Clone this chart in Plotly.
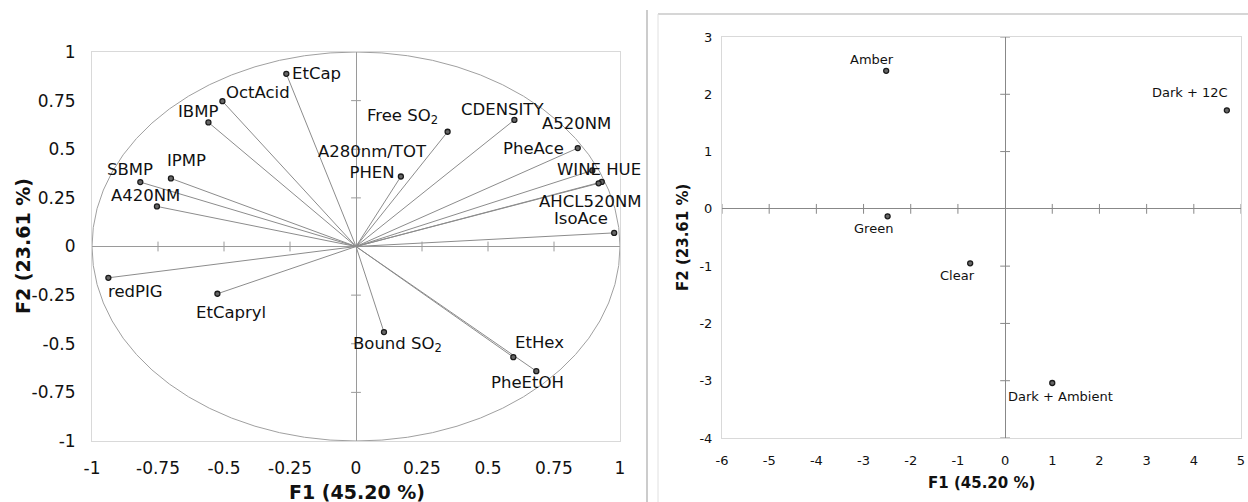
import plotly.graph_objects as go

W, H = 1248, 502

# ---------------- data ----------------
var_names = ["EtCap", "OctAcid", "IBMP", "IPMP", "SBMP", "A420NM", "redPIG", "EtCapryl",
             "Free SO<sub>2</sub>", "CDENSITY", "A520NM", "PheAce", "A280nm/TOT<br>PHEN",
             "WINE HUE", "AHCL520NM", "IsoAce", "Bound SO<sub>2</sub>", "EtHex", "PheEtOH"]
var_f1 = [-0.264, -0.506, -0.559, -0.701, -0.817, -0.754, -0.938, -0.525,
          0.347, 0.600, 0.931, 0.840, 0.170, 0.895, 0.919, 0.978, 0.106, 0.596, 0.683]
var_f2 = [0.888, 0.747, 0.638, 0.350, 0.331, 0.206, -0.161, -0.243,
          0.590, 0.651, 0.332, 0.506, 0.360, 0.391, 0.325, 0.070, -0.440, -0.569, -0.641]

obs_names = ["Amber", "Green", "Dark + 12C", "Clear", "Dark + Ambient"]
obs_f1 = [-2.52, -2.49, 4.70, -0.74, 1.00]
obs_f2 = [2.41, -0.13, 1.72, -0.95, -3.04]

left_ticks = [-1, -0.75, -0.5, -0.25, 0, 0.25, 0.5, 0.75, 1]
left_ticktext = ["-1", "-0.75", "-0.5", "-0.25", "0", "0.25", "0.5", "0.75", "1"]
right_xticks = [-6, -5, -4, -3, -2, -1, 0, 1, 2, 3, 4, 5]
right_xticktext = ["-6", "-5", "-4", "-3", "-2", "-1", "0", "1", "2", "3", "4", "5"]
right_yticks = [-4, -3, -2, -1, 0, 1, 2, 3]
right_yticktext = ["-4", "-3", "-2", "-1", "0", "1", "2", "3"]

x_title = "F1 (45.20 %)"
y_title = "F2 (23.61 %)"

# label offsets in pixels (dx right, dy up) - styling only
var_label_shift = {
    "EtCap": (30, 0), "OctAcid": (36, 9), "IBMP": (-10, 11), "IPMP": (15.5, 18),
    "SBMP": (-10.6, 12.4), "A420NM": (-11, 11), "redPIG": (27, -13.4), "EtCapryl": (13.4, -18.4),
    "Free SO<sub>2</sub>": (-44.7, 15.3), "CDENSITY": (-11.6, 10.3), "A520NM": (-25.2, 58.6),
    "PheAce": (-44.7, -0.6), "A280nm/TOT<br>PHEN": (-28, 14), "WINE HUE": (6.4, 0.7),
    "AHCL520NM": (-9, -18), "IsoAce": (-33.6, 14), "Bound SO<sub>2</sub>": (13.7, -12.6),
    "EtHex": (26.5, 15), "PheEtOH": (-8.6, -11.6),
}
obs_label_shift = {
    "Amber": (-14, 11.4), "Green": (-14, -12.3), "Dark + 12C": (-36.4, 17.4),
    "Clear": (-12.5, -12.7), "Dark + Ambient": (8.5, -13.4),
}

FONT = "DejaVu Sans, Verdana, sans-serif"
FRAME = "#d9d9d9"
AXC = "#9a9a9a"

def px(x):
    return x / W

def py(y):
    return 1 - y / H

fig = go.Figure()

# ---------- left: correlation circle ----------
vx, vy = [], []
for a, b in zip(var_f1, var_f2):
    vx += [0, a, None]
    vy += [0, b, None]
fig.add_trace(go.Scatter(x=vx, y=vy, mode="lines", line=dict(color="#8c8c8c", width=1),
                         xaxis="x", yaxis="y", hoverinfo="skip", showlegend=False))

inner = [t for t in left_ticks if t not in (-1, 0, 1)]
fig.add_trace(go.Scatter(x=inner, y=[0] * len(inner), mode="markers",
                         marker=dict(symbol="line-ns", size=7, line=dict(color=AXC, width=1)),
                         xaxis="x", yaxis="y", hoverinfo="skip", showlegend=False))
fig.add_trace(go.Scatter(x=[0] * len(inner), y=inner, mode="markers",
                         marker=dict(symbol="line-ew", size=7, line=dict(color=AXC, width=1)),
                         xaxis="x", yaxis="y", hoverinfo="skip", showlegend=False))

fig.add_trace(go.Scatter(x=var_f1, y=var_f2, mode="markers",
                         marker=dict(symbol="circle", size=5, color="#666666",
                                     line=dict(color="#1a1a1a", width=1.3)),
                         xaxis="x", yaxis="y", text=var_names, showlegend=False))

fig.add_shape(type="circle", xref="x", yref="y", x0=-1, y0=-1, x1=1, y1=1,
              line=dict(color="#a0a0a0", width=1), layer="below")

for n, a, b in zip(var_names, var_f1, var_f2):
    dx, dy = var_label_shift[n]
    fig.add_annotation(x=a, y=b, xref="x", yref="y", text=n, showarrow=False,
                       xanchor="center", yanchor="middle", xshift=dx, yshift=dy,
                       font=dict(family=FONT, size=16.5, color="#111111"))

# ---------- right: observations ----------
rx = [t for t in right_xticks if t != 0]
ry = [t for t in right_yticks if t != 0]
fig.add_trace(go.Scatter(x=rx, y=[0] * len(rx), mode="markers",
                         marker=dict(symbol="line-ns", size=7, line=dict(color="#888888", width=1)),
                         xaxis="x2", yaxis="y2", hoverinfo="skip", showlegend=False))
fig.add_trace(go.Scatter(x=[0] * len(ry), y=ry, mode="markers",
                         marker=dict(symbol="line-ew", size=7, line=dict(color="#888888", width=1)),
                         xaxis="x2", yaxis="y2", hoverinfo="skip", showlegend=False))
fig.add_trace(go.Scatter(x=obs_f1, y=obs_f2, mode="markers",
                         marker=dict(symbol="circle", size=5, color="#666666",
                                     line=dict(color="#1a1a1a", width=1.3)),
                         xaxis="x2", yaxis="y2", text=obs_names, showlegend=False))
for n, a, b in zip(obs_names, obs_f1, obs_f2):
    dx, dy = obs_label_shift[n]
    fig.add_annotation(x=a, y=b, xref="x2", yref="y2", text=n, showarrow=False,
                       xanchor="center", yanchor="middle", xshift=dx, yshift=dy,
                       font=dict(family=FONT, size=13, color="#111111"))

# ---------- axis titles ----------
fig.add_annotation(x=px(357), y=py(492), xref="paper", yref="paper", text=f"<b>{x_title}</b>",
                   showarrow=False, xanchor="center", yanchor="middle",
                   font=dict(family=FONT, size=19, color="#111111"))
fig.add_annotation(x=px(23), y=py(246), xref="paper", yref="paper", text=f"<b>{y_title}</b>",
                   showarrow=False, xanchor="center", yanchor="middle", textangle=-90,
                   font=dict(family=FONT, size=19, color="#111111"))
fig.add_annotation(x=px(981), y=py(483), xref="paper", yref="paper", text=f"<b>{x_title}</b>",
                   showarrow=False, xanchor="center", yanchor="middle",
                   font=dict(family=FONT, size=15, color="#111111"))
fig.add_annotation(x=px(683), y=py(238), xref="paper", yref="paper", text=f"<b>{y_title}</b>",
                   showarrow=False, xanchor="center", yanchor="middle", textangle=-90,
                   font=dict(family=FONT, size=15, color="#111111"))

# ---------- separator / frame ----------
fig.add_shape(type="line", xref="paper", yref="paper", x0=px(647), x1=px(647), y0=py(10), y1=0,
              line=dict(color="#cccccc", width=2))
fig.add_shape(type="line", xref="paper", yref="paper", x0=px(658), x1=1, y0=py(14), y1=py(14),
              line=dict(color="#c8c8c8", width=1.5))
fig.add_shape(type="line", xref="paper", yref="paper", x0=px(658), x1=px(658), y0=py(14), y1=0,
              line=dict(color="#e0e0e0", width=1))

def axis(domain, rng, anchor, tickvals, ticktext, zc, standoff, size):
    return dict(domain=domain, range=rng, anchor=anchor, tickvals=tickvals, ticktext=ticktext,
                showgrid=False, showline=True, mirror=True, linecolor=FRAME, linewidth=1,
                zeroline=True, zerolinecolor=zc, zerolinewidth=1, ticks="",
                ticklabelstandoff=standoff, automargin=False, fixedrange=True,
                tickfont=dict(family=FONT, size=size, color="#111111"))

fig.update_layout(
    width=W, height=H,
    margin=dict(l=0, r=0, t=0, b=0, autoexpand=False),
    paper_bgcolor="white", plot_bgcolor="white",
    showlegend=False,
    xaxis=axis([px(92), px(620)], [-1, 1], "y", left_ticks, left_ticktext, AXC, 12, 17),
    yaxis=axis([py(441), py(52)], [-1, 1], "x", left_ticks, left_ticktext, AXC, 12, 17),
    xaxis2=axis([px(722), px(1241)], [-6, 5], "y2", right_xticks, right_xticktext, "#888888", 10, 13),
    yaxis2=axis([py(438), py(37)], [-4, 3], "x2", right_yticks, right_yticktext, "#888888", 6, 13),
)

fig.write_html("out.html", config={"displayModeBar": False},
               post_script="document.body.style.margin='0';document.body.style.overflow='hidden';")
